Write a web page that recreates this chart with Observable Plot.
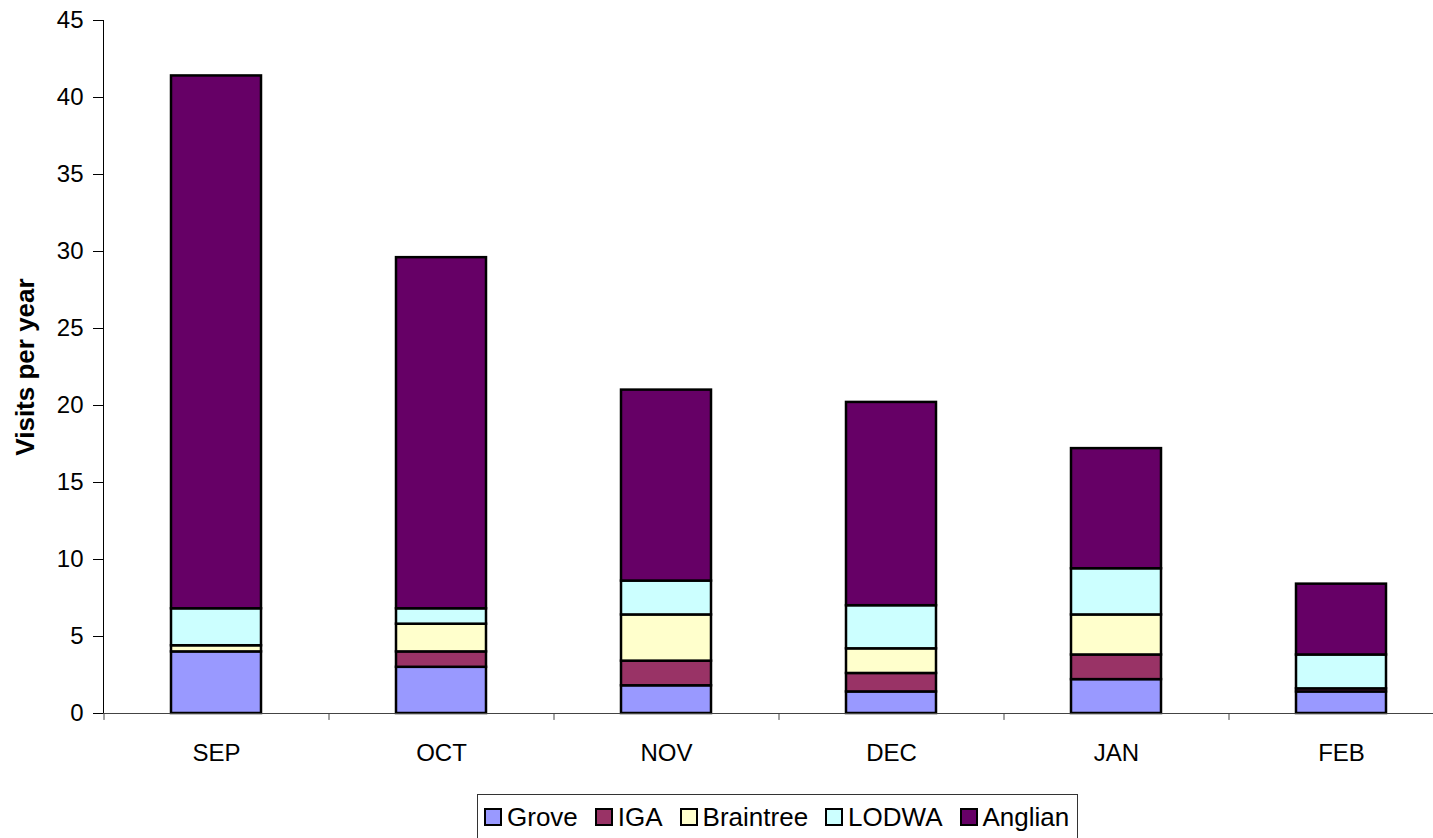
<!DOCTYPE html>
<html>
<head>
<meta charset="utf-8">
<script src="https://cdn.jsdelivr.net/npm/d3@7"></script>
<script src="https://cdn.jsdelivr.net/npm/@observablehq/plot@0.6"></script>
<style>
  html, body { margin: 0; padding: 0; background: #fff; overflow: hidden; }
  body { width: 1433px; height: 838px; position: relative; font-family: "Liberation Sans", Arial, sans-serif; }
  #chart { position: absolute; left: 0; top: 0; }
  #legend { position: absolute; left: 477px; top: 794px; width: 601px; height: 44px; box-sizing: border-box; border: 1px solid #333; border-bottom: none; padding: 0 0 0 6px; display: flex; gap: 17px; font-size: 26px; color: #000; white-space: nowrap; line-height: 38px; }
  .item { display: flex; align-items: center; gap: 5px; }
  .sw { width: 18px; height: 18px; border: 2px solid #000; box-sizing: border-box; display: inline-block; }
</style>
</head>
<body>
<div id="chart"></div>
<div id="legend"></div>
<script>
const months = ["SEP", "OCT", "NOV", "DEC", "JAN", "FEB"];
const seriesNames = ["Grove", "IGA", "Braintree", "LODWA", "Anglian"];
const grove = [4.0, 3.0, 1.8, 1.4, 2.2, 1.4];
const iga = [0.0, 1.0, 1.6, 1.2, 1.6, 0.2];
const braintree = [0.4, 1.8, 3.0, 1.6, 2.6, 0.0];
const lodwa = [2.4, 1.0, 2.2, 2.8, 3.0, 2.2];
const anglian = [34.6, 22.8, 12.4, 13.2, 7.8, 4.6];
const colors = ["#9999FF", "#993366", "#FFFFCC", "#CCFFFF", "#660066"];
const yTicks = [0, 5, 10, 15, 20, 25, 30, 35, 40, 45];

const seriesValues = [grove, iga, braintree, lodwa, anglian];
const data = [];
seriesNames.forEach((s, i) => {
  months.forEach((m, j) => data.push({month: m, series: s, value: seriesValues[i][j]}));
});

const width = 1433, height = 770;
const marginLeft = 103, marginRight = -20;
const step = (width - marginRight - marginLeft) / months.length;

const chart = Plot.plot({
  width, height,
  marginTop: 20, marginBottom: 57, marginLeft, marginRight,
  style: {fontFamily: "Liberation Sans, Arial, sans-serif", fontSize: "24px", color: "#000", background: "#fff", overflow: "visible"},
  x: {domain: months, paddingInner: 0.6, paddingOuter: 0.3, label: null, tickSize: 0, tickPadding: 30},
  y: {domain: [0, 45], ticks: yTicks, tickSize: 10, tickPadding: 10, label: null, line: true},
  color: {domain: seriesNames, range: colors},
  marks: [
    Plot.barY(data, {x: "month", y: "value", fill: "series", stroke: "#000", strokeWidth: 2.5}),
    Plot.ruleX(months, {x: d => d, dx: -step / 2, y1: 0, y2: -0.45, stroke: "#444", strokeWidth: 1}),
    Plot.ruleY([0], {stroke: "#444", strokeWidth: 1.2}),
    Plot.text(["Visits per year"], {frameAnchor: "left", textAnchor: "middle", dx: -78, rotate: -90, fontWeight: "bold", fontSize: 26})
  ]
});
document.getElementById("chart").appendChild(chart);

const legend = document.getElementById("legend");
seriesNames.forEach((s, i) => {
  const item = document.createElement("span");
  item.className = "item";
  const sw = document.createElement("span");
  sw.className = "sw";
  sw.style.background = colors[i];
  item.appendChild(sw);
  item.appendChild(document.createTextNode(s));
  legend.appendChild(item);
});
</script>
</body>
</html>
